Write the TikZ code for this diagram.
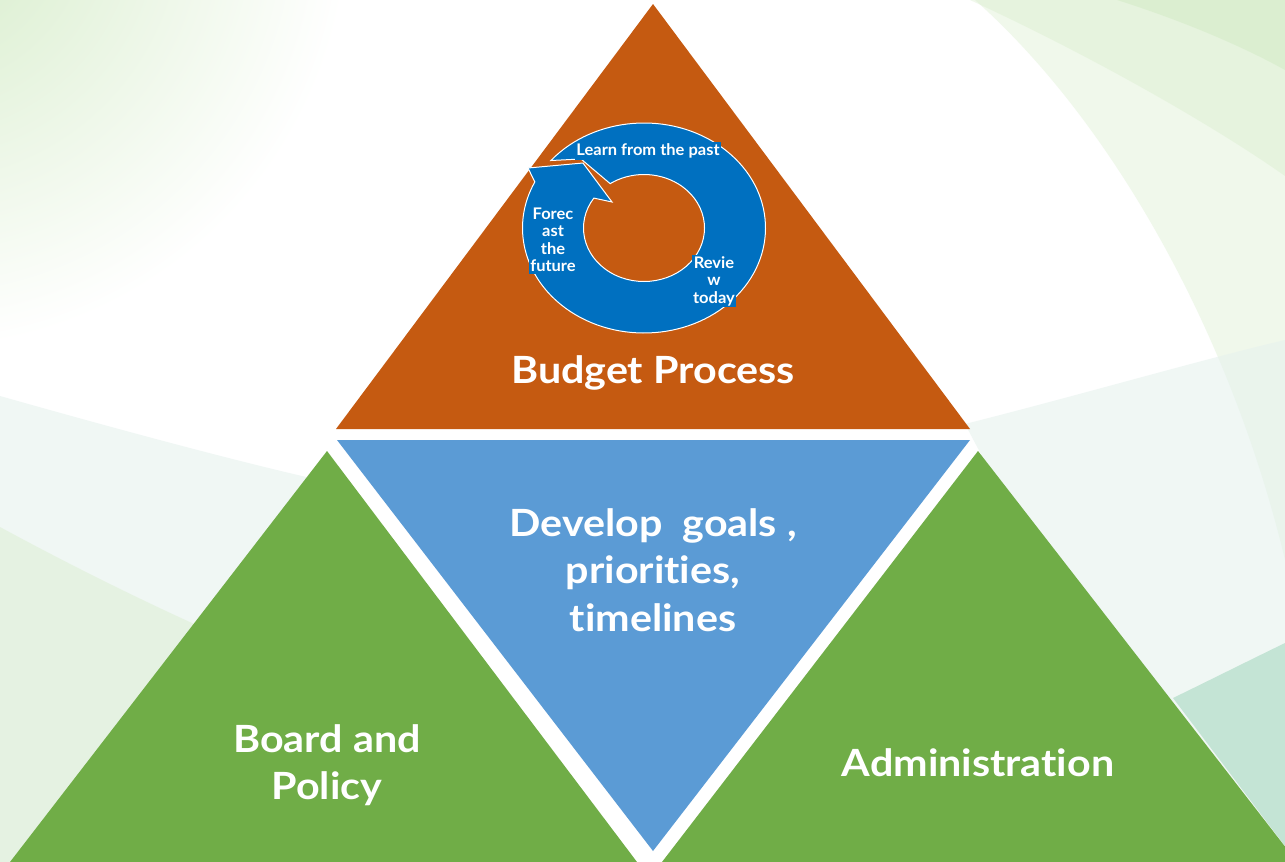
\documentclass[tikz,border=0pt]{standalone}
\usepackage{fontspec}
\setmainfont{Lato}[Ligatures=NoCommon]
\newfontfamily\widefont{Lato}[Ligatures=NoCommon, FakeStretch=1.1]
\newfontfamily\cyclefont{Lato}[Ligatures=NoCommon, FakeStretch=1.03]
\usetikzlibrary{calc}

\definecolor{budgetorange}{HTML}{C55A11}
\definecolor{goalblue}{HTML}{5B9BD5}
\definecolor{boardgreen}{HTML}{70AD47}
\definecolor{cycleblue}{HTML}{0070C0}
\definecolor{paleleaf}{HTML}{D5ECC8}
\definecolor{paleteal}{HTML}{B2DCC8}
\definecolor{palemist}{HTML}{E6F2EE}

\tikzset{
  bigtext/.style={text=white, font=\widefont\fontsize{37.5}{47.5}\selectfont\bfseries, align=center, inner sep=0pt},
  cycletext/.style={text=white, fill=cycleblue, font=\cyclefont\fontsize{16}{17.5}\selectfont\bfseries, align=center, inner sep=1.5pt},
  cyclering/.style={fill=cycleblue, draw=white, line width=1pt},
}

\begin{document}
\begin{tikzpicture}[x=1pt,y=-1pt]

\useasboundingbox (0,0) rectangle (1285,862);
\fill[white] (0,0) rectangle (1285,862);

% background swirls
\shade[inner color=paleleaf, outer color=white] (-80,-80) circle (430);
\fill[palemist, opacity=0.6] (0,396) .. controls (120,430) and (250,465) .. (333,483) -- (10,862) -- (0,862) -- cycle;
\fill[paleleaf, opacity=0.4] (0,527) .. controls (70,565) and (150,605) .. (230,640) -- (230,862) -- (0,862) -- cycle;
\fill[paleleaf, opacity=0.35] (975,0) .. controls (1110,120) and (1230,330) .. (1285,560) -- (1285,0) -- cycle;
\fill[paleleaf, opacity=0.35] (970,0) .. controls (1100,60) and (1220,130) .. (1285,176) -- (1285,0) -- cycle;
\fill[paleleaf, opacity=0.6] (1117,0) .. controls (1180,20) and (1240,45) .. (1285,70) -- (1285,0) -- cycle;
\fill[palemist, opacity=0.6] (965,424) .. controls (1080,395) and (1200,360) .. (1285,340) -- (1285,846) -- (1000,490) -- cycle;
\fill[paleteal, opacity=0.7] (1173,698) .. controls (1210,680) and (1250,660) .. (1285,643) -- (1285,846) -- cycle;

% triangles
\fill[budgetorange] (653,4) -- (970,429) -- (336,429) -- cycle;
\fill[goalblue] (337,440) -- (970,440) -- (653,851) -- cycle;
\fill[boardgreen] (327,451) -- (637,862) -- (10,862) -- cycle;
\fill[boardgreen] (978,451) -- (1297,862) -- (662,862) -- cycle;

% cycle arrow
\coordinate (hub) at (644,228);
\path[cyclering] ([shift={(-140:121.5 and 105)}]hub)
  arc[start angle=-140, end angle=206, x radius=121.5, y radius=105]
  -- (528,168) -- (583,163) -- (612,202)
  -- ([shift={(214:60.5 and 53.5)}]hub)
  arc[start angle=214, end angle=-124, x radius=60.5, y radius=53.5]
  -- (581,159) -- cycle;

\node[cycletext] (past) at (648,151) {Learn from the past};
\node[cycletext] (forecast) at (553,240) {Forec\\ast\\the\\future};
\node[cycletext] (review) at (714,281) {Revie\\w\\today};

% labels
\node[bigtext] (budget) at (653,373) {Budget Process};
\node[bigtext] (goals) at (653,570) {Develop\ \ goals ,\\priorities,\\timelines};
\node[bigtext] (board) at (327,765) {Board and\\Policy};
\node[bigtext] (admin) at (978,763) {Administration};

\end{tikzpicture}
\end{document}
